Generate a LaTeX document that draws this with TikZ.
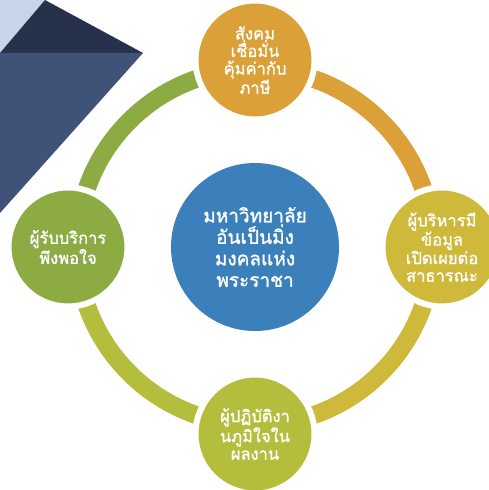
\documentclass[tikz,border=0pt]{standalone}
\usepackage{fontspec}
\newfontfamily\thaifont[Script=Thai,FakeBold=1.2]{Loma}
\usetikzlibrary{positioning}
\definecolor{hubblue}{HTML}{3B80BA}
\definecolor{trustorange}{HTML}{DBA037}
\definecolor{infomustard}{HTML}{CFB93A}
\definecolor{staffolive}{HTML}{B4BE3C}
\definecolor{servegreen}{HTML}{8CAB43}
\definecolor{cornerlight}{HTML}{C7D5E8}
\definecolor{cornernavy}{HTML}{26324B}
\definecolor{cornerslate}{HTML}{3F5378}

\begin{document}
\begin{tikzpicture}[x=1pt,y=1pt,on grid,node distance=187pt,
   hub/.style={circle,fill=hubblue,minimum size=168pt,inner sep=0pt,text=white,
     align=center,font=\thaifont\fontsize{19}{21.5}\selectfont},
   spoke/.style={circle,draw=white,line width=6pt,minimum size=119pt,inner sep=0pt,
     text=white,align=center,font=\thaifont\fontsize{16.5}{17.5}\selectfont},
   ring/.style={draw=#1,line width=18pt}]
   \useasboundingbox (0,0) rectangle (489,490);

   % Corner
   \fill[cornerlight] (0,490) -- (45,490) -- (0,437) -- cycle;
   \fill[cornernavy] (45,490) -- (143,437) -- (0,437) -- cycle;
   \fill[cornerslate] (0,437) -- (143,437) -- (0,277) -- cycle;

   \node[hub] (uni) at (255,243) {มหาวิทยาลัย\\อันเป็นมิ่ง\\มงคลแห่ง\\พระราชา};

   % Ring
   \draw[ring=servegreen] (uni.center) ++(180:178) arc[start angle=180,end angle=90,radius=178];
   \draw[ring=trustorange] (uni.center) ++(90:178) arc[start angle=90,end angle=0,radius=178];
   \draw[ring=infomustard] (uni.center) ++(0:178) arc[start angle=0,end angle=-90,radius=178];
   \draw[ring=staffolive] (uni.center) ++(-90:178) arc[start angle=-90,end angle=-180,radius=178];

   % Spokes
   \node[spoke,fill=trustorange] (trust) [above=of uni] {สังคม\\เชื่อมั่น\\คุ้มค่ากับ\\ภาษี};
   \node[spoke,fill=infomustard] (info) [right=of uni] {ผู้บริหารมี\\ข้อมูล\\เปิดเผยต่อ\\สาธารณะ};
   \node[spoke,fill=staffolive] (staff) [below=of uni] {ผู้ปฏิบัติงา\\นภูมิใจใน\\ผลงาน};
   \node[spoke,fill=servegreen] (serve) [left=of uni] {ผู้รับบริการ\\พึงพอใจ};
\end{tikzpicture}
\end{document}
